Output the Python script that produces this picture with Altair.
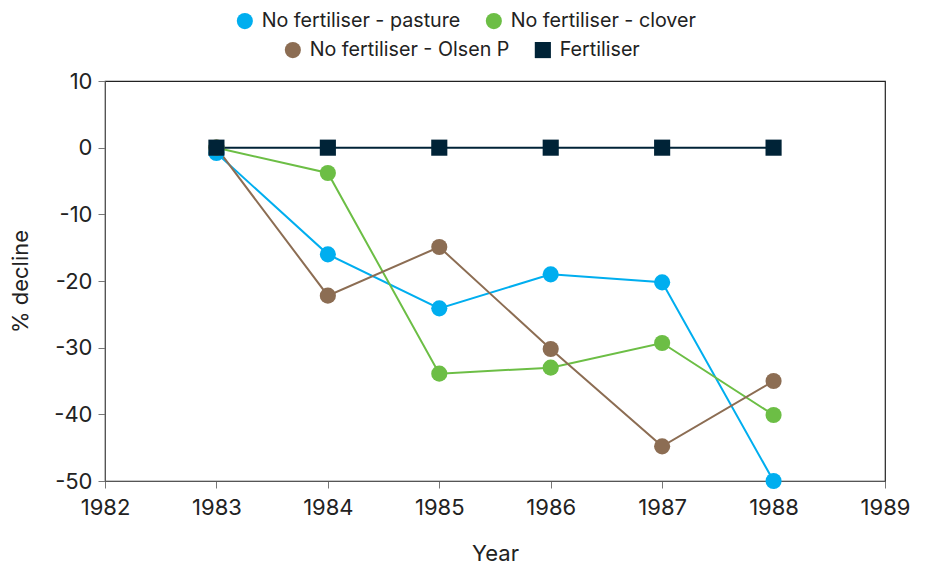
import altair as alt
import pandas as pd

years = [1983, 1984, 1985, 1986, 1987, 1988]
pasture = [-0.8, -16.0, -24.1, -19.0, -20.2, -50.0]
clover = [0.0, -3.8, -33.9, -33.0, -29.3, -40.1]
olsen = [0.0, -22.2, -14.9, -30.2, -44.8, -35.0]
fert = [0.0, 0.0, 0.0, 0.0, 0.0, 0.0]

names = ["No fertiliser - pasture", "No fertiliser - clover",
         "No fertiliser - Olsen P", "Fertiliser"]
colors = ["#00AEEF", "#6CBE45", "#8C6D53", "#002337"]

rows = []
for name, vals in zip(names, [pasture, clover, olsen, fert]):
    for y, v in zip(years, vals):
        rows.append({"Year": y, "value": v, "series": name})
df = pd.DataFrame(rows)

FONT = "Inter"
x = alt.X("Year:Q", scale=alt.Scale(domain=[1982, 1989], nice=False),
          axis=alt.Axis(format="d", values=list(range(1982, 1990)), labelFlush=False,
                        title="Year", titlePadding=25, labelPadding=9))
y = alt.Y("value:Q", scale=alt.Scale(domain=[-50, 10], nice=False),
          axis=alt.Axis(values=list(range(-50, 11, 10)), title="% decline", labelFlush=False,
                        labelExpr="datum.value", titlePadding=21, labelPadding=6))


def group(sel, lx, ly, shapes):
    d = df[df["series"].isin(sel)]
    cols = [colors[names.index(s)] for s in sel]
    color = alt.Color("series:N", scale=alt.Scale(domain=sel, range=cols),
                      legend=alt.Legend(orient="none", direction="horizontal",
                                        legendX=lx, legendY=ly, title=None,
                                        symbolSize=260, labelFontSize=19.7,
                                        labelFont=FONT, labelColor="#222",
                                        symbolOpacity=1, labelOffset=7,
                                        labelLimit=0,
                                        columnPadding=23, symbolStrokeWidth=0))
    shape = alt.Shape("series:N", scale=alt.Scale(domain=sel, range=shapes), legend=None)
    line = alt.Chart(d).mark_line(strokeWidth=2).encode(
        x=x, y=y, color=alt.Color("series:N", scale=alt.Scale(domain=sel, range=cols), legend=None),
        detail="series:N")
    pts = alt.Chart(d).mark_point(filled=True, size=260, opacity=1).encode(
        x=x, y=y, color=color, shape=shape)
    return line, pts


l1, p1 = group(names[:2], 130, -70, ["circle", "circle"])
l2, p2 = group(names[2:], 178, -41, ["circle", "square"])

chart = alt.layer(l1, l2, p1, p2).resolve_scale(color="independent", shape="independent").properties(
    width=780, height=400,
    autosize=alt.AutoSizeParams(type="none"),
    padding={"left": 97, "top": 73, "right": 32, "bottom": 86},
).configure_view(stroke="#222", strokeWidth=1.2).configure_axis(
    grid=False, labelFont=FONT, titleFont=FONT, labelFontSize=22, titleFontSize=22,
    labelColor="#222", titleColor="#222", titleFontWeight="normal",
    domainColor="#555", tickColor="#777", tickSize=7,
)

chart.save("out.html", embed_options={"renderer": "svg", "actions": False})
